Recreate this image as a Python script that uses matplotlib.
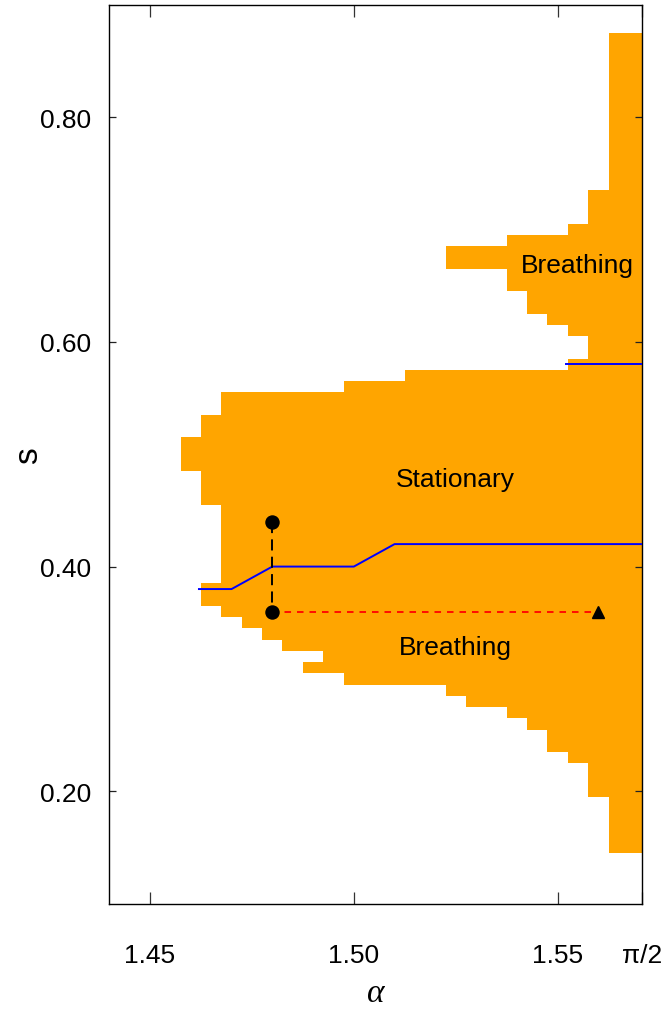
import numpy as np
import matplotlib
matplotlib.use("Agg")
import matplotlib.pyplot as plt
from matplotlib.colors import ListedColormap

plt.rcParams["font.family"] = ["Liberation Sans", "DejaVu Sans"]
plt.rcParams["lines.scale_dashes"] = False

# Simulation grid: opening angle alpha (columns) and parameter s (rows)
alpha = [1.460, 1.465, 1.470, 1.475, 1.480, 1.485, 1.490, 1.495,
         1.500, 1.505, 1.510, 1.515, 1.520, 1.525, 1.530, 1.535,
         1.540, 1.545, 1.550, 1.555, 1.560, 1.565, 1.570]
s_grid = np.round(np.arange(0.15, 0.8751, 0.01), 2)

# Ranges of s (inclusive) where a localized solution exists, per alpha column
bands = [
    [(0.49, 0.51)],
    [(0.37, 0.38), (0.46, 0.53)],
    [(0.36, 0.55)],
    [(0.35, 0.55)],
    [(0.34, 0.55)],
    [(0.33, 0.55)],
    [(0.31, 0.31), (0.33, 0.55)],
    [(0.31, 0.55)],
    [(0.30, 0.56)],
    [(0.30, 0.56)],
    [(0.30, 0.56)],
    [(0.30, 0.57)],
    [(0.30, 0.57)],
    [(0.29, 0.57), (0.67, 0.68)],
    [(0.28, 0.57), (0.67, 0.68)],
    [(0.28, 0.57), (0.67, 0.68)],
    [(0.27, 0.57), (0.65, 0.69)],
    [(0.26, 0.57), (0.63, 0.69)],
    [(0.24, 0.57), (0.62, 0.69)],
    [(0.23, 0.58), (0.61, 0.70)],
    [(0.20, 0.73)],
    [(0.15, 0.87)],
    [(0.15, 0.87)],
]

# Stationary / breathing transition curves
lower_alpha = [1.462, 1.47, 1.48, 1.50, 1.51, np.pi / 2]
lower_s = [0.38, 0.38, 0.40, 0.40, 0.42, 0.42]
upper_alpha = [1.552, np.pi / 2]
upper_s = [0.58, 0.58]

# Sample points
pts_alpha = [1.48, 1.48]
pts_s = [0.44, 0.36]
tri_alpha = [1.56]
tri_s = [0.36]

x_ticks = [1.45, 1.50, 1.55, np.pi / 2]
x_ticklabels = ["1.45", "1.50", "1.55", "π/2"]
y_ticks = [0.20, 0.40, 0.60, 0.80]
y_ticklabels = ["0.20", "0.40", "0.60", "0.80"]

# Build occupancy map
a = np.asarray(alpha)
mask = np.zeros((len(s_grid), len(a)), dtype=bool)
for j, col in enumerate(bands):
    for lo, hi in col:
        mask[(s_grid >= lo - 1e-9) & (s_grid <= hi + 1e-9), j] = True

da = a[1] - a[0]
x_edges = np.concatenate([[a[0] - da / 2], (a[1:] + a[:-1]) / 2, [a[-1] + da / 2]])
ds = 0.01
y_edges = np.concatenate([[s_grid[0] - ds / 2], (s_grid[1:] + s_grid[:-1]) / 2,
                          [s_grid[-1] + ds / 2]])

fig = plt.figure(figsize=(6.62, 10.12), dpi=100)
ax = fig.add_axes([0.1651, 0.106, 0.8052, 0.8884])

data = np.ma.masked_where(~mask, np.ones_like(mask, dtype=float))
ax.pcolormesh(x_edges, y_edges, data, cmap=ListedColormap(["#ffa500"]),
              vmin=0, vmax=1, shading="flat", antialiased=False,
              edgecolors="none", zorder=1)

ax.plot(lower_alpha, lower_s, color="#0000ff", lw=1.4, zorder=3)
ax.plot(upper_alpha, upper_s, color="#0000ff", lw=1.4, zorder=3)

ax.plot(pts_alpha, pts_s, color="black", lw=1.4, dashes=(8, 4.5), zorder=3)
ax.plot([pts_alpha[1], tri_alpha[0]], [pts_s[1], tri_s[0]], color="#ff0000",
        lw=1.3, dashes=(4.7, 4.3), zorder=3)
ax.plot(pts_alpha, pts_s, "o", color="black", markersize=9.4, zorder=4)
ax.plot(tri_alpha, tri_s, "^", color="black", markersize=8.5, zorder=4)

ax.text(1.5249, 0.4715, "Stationary", fontsize=19, ha="center", va="baseline")
ax.text(1.5250, 0.3224, "Breathing", fontsize=19, ha="center", va="baseline")
ax.text(1.5549, 0.6624, "Breathing", fontsize=19, ha="center", va="baseline")

ax.set_xlim(1.44, np.pi / 2)
ax.set_ylim(0.10, 0.90)
ax.set_xticks(x_ticks)
ax.set_xticklabels(x_ticklabels)
ax.set_yticks(y_ticks)
ax.set_yticklabels(y_ticklabels)
ax.tick_params(axis="x", direction="in", length=8.6, width=0.9, pad=28.5,
               top=True, labelsize=19, color="#333333")
ax.tick_params(axis="y", direction="in", length=5, width=0.9, pad=13,
               right=True, labelsize=19, color="#222222")
for sp in ax.spines.values():
    sp.set_linewidth(1.0)
    sp.set_color("black")

ax.set_xlabel("α", fontsize=24, family="Liberation Serif", style="italic")
ax.xaxis.set_label_coords(0.5, -0.0995)
ax.xaxis.label.set_verticalalignment("center")
ax.set_ylabel("s", fontsize=24)
ax.yaxis.set_label_coords(-0.152, 0.5)
ax.yaxis.label.set_verticalalignment("center")

fig.savefig("out.png", dpi=100)
